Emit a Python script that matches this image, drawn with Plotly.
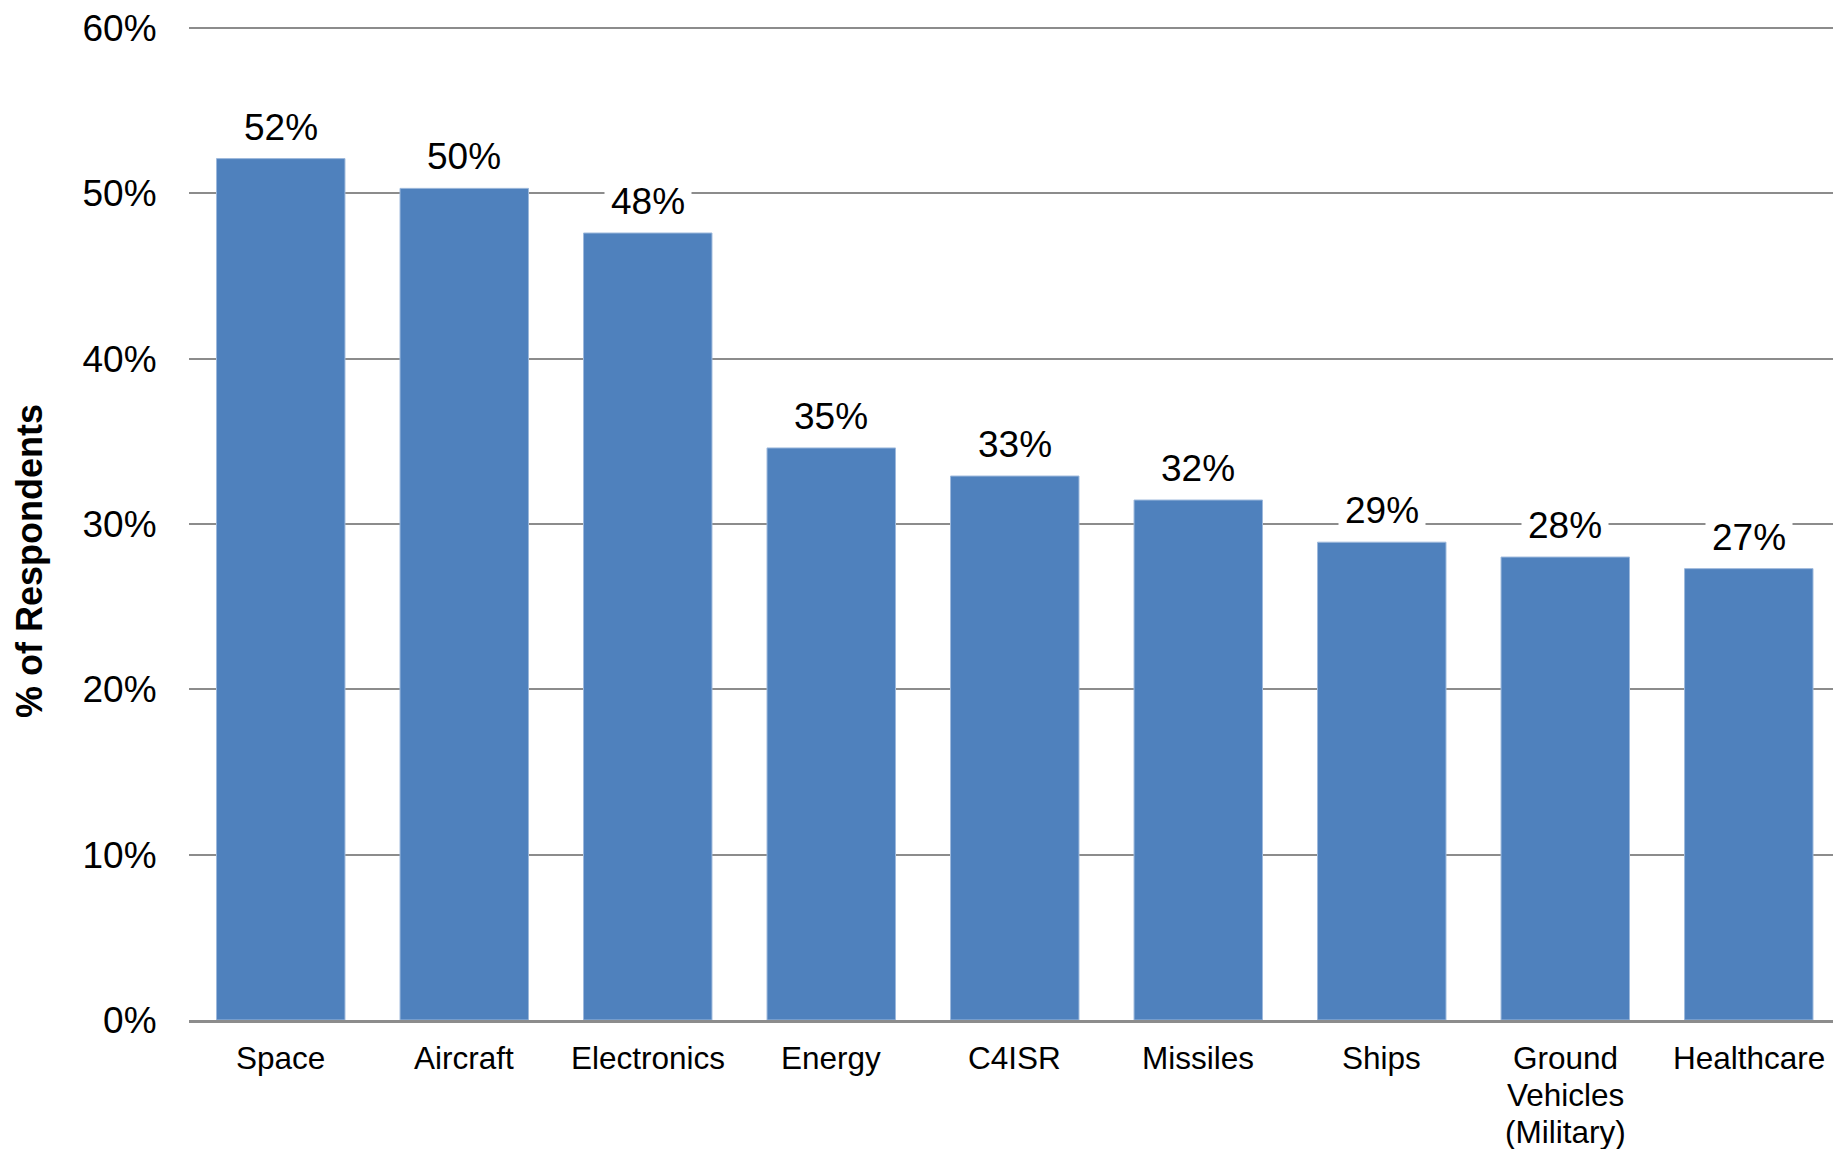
import plotly.graph_objects as go

categories = ["Space", "Aircraft", "Electronics", "Energy", "C4ISR", "Missiles",
              "Ships", "Ground Vehicles (Military)", "Healthcare"]
category_lines = [["Space"], ["Aircraft"], ["Electronics"], ["Energy"], ["C4ISR"],
                  ["Missiles"], ["Ships"], ["Ground", "Vehicles", "(Military)"],
                  ["Healthcare"]]
values = [52.1, 50.3, 47.6, 34.6, 32.9, 31.45, 28.9, 28.0, 27.3]
value_labels = ["52%", "50%", "48%", "35%", "33%", "32%", "29%", "28%", "27%"]
y_ticks = [0, 10, 20, 30, 40, 50, 60]
y_tick_labels = ["0%", "10%", "20%", "30%", "40%", "50%", "60%"]

FONT = "Liberation Sans, Arial, sans-serif"
BAR = "#4F81BD"
GRID = "#8C8C8C"

fig = go.Figure()
fig.add_trace(go.Bar(
    x=categories, y=values, width=0.7,
    marker=dict(color=BAR, line=dict(color="#9DB9DC", width=1)),
    hoverinfo="skip",
))

for c, v, t in zip(categories, values, value_labels):
    fig.add_annotation(
        x=c, y=v, text=t, showarrow=False, yanchor="bottom", yshift=4,
        bgcolor="white", borderpad=6,
        font=dict(family=FONT, size=37, color="black"),
    )

# category labels (tight line spacing like the original)
LINE_H = 36.8
for c, lines in zip(categories, category_lines):
    for i, ln in enumerate(lines):
        fig.add_annotation(
            x=c, xref="x", y=0, yref="paper", text=ln, showarrow=False,
            xanchor="center", yanchor="middle", yshift=-(38 + i * LINE_H),
            font=dict(family=FONT, size=31.5, color="black"),
        )

fig.add_annotation(
    xref="paper", yref="paper", x=(29 - 189) / 1644, y=(1020 - 562) / 992,
    xanchor="center", yanchor="middle", textangle=-90,
    text="<b>% of Respondents</b>", showarrow=False,
    font=dict(family=FONT, size=36, color="black"),
)

fig.update_layout(
    width=1833, height=1149,
    margin=dict(l=189, r=0, t=26, b=129, pad=0, autoexpand=False),
    paper_bgcolor="white", plot_bgcolor="white",
    showlegend=False,
    font=dict(family=FONT, color="black"),
    bargap=0.3,
)
fig.update_xaxes(
    range=[-0.5, 8.459], showgrid=False, automargin=False,
    showline=True, linecolor=GRID, linewidth=2.5,
    showticklabels=False, ticks="",
)
fig.update_yaxes(
    range=[0, 60.12], tickvals=y_ticks, ticktext=y_tick_labels,
    showgrid=True, gridcolor=GRID, gridwidth=2.2, automargin=False,
    zeroline=False, showline=False,
    ticks="outside", ticklen=24, tickcolor="rgba(0,0,0,0)",
    tickfont=dict(family=FONT, size=37, color="black"),
)

fig.write_html("out.html")
